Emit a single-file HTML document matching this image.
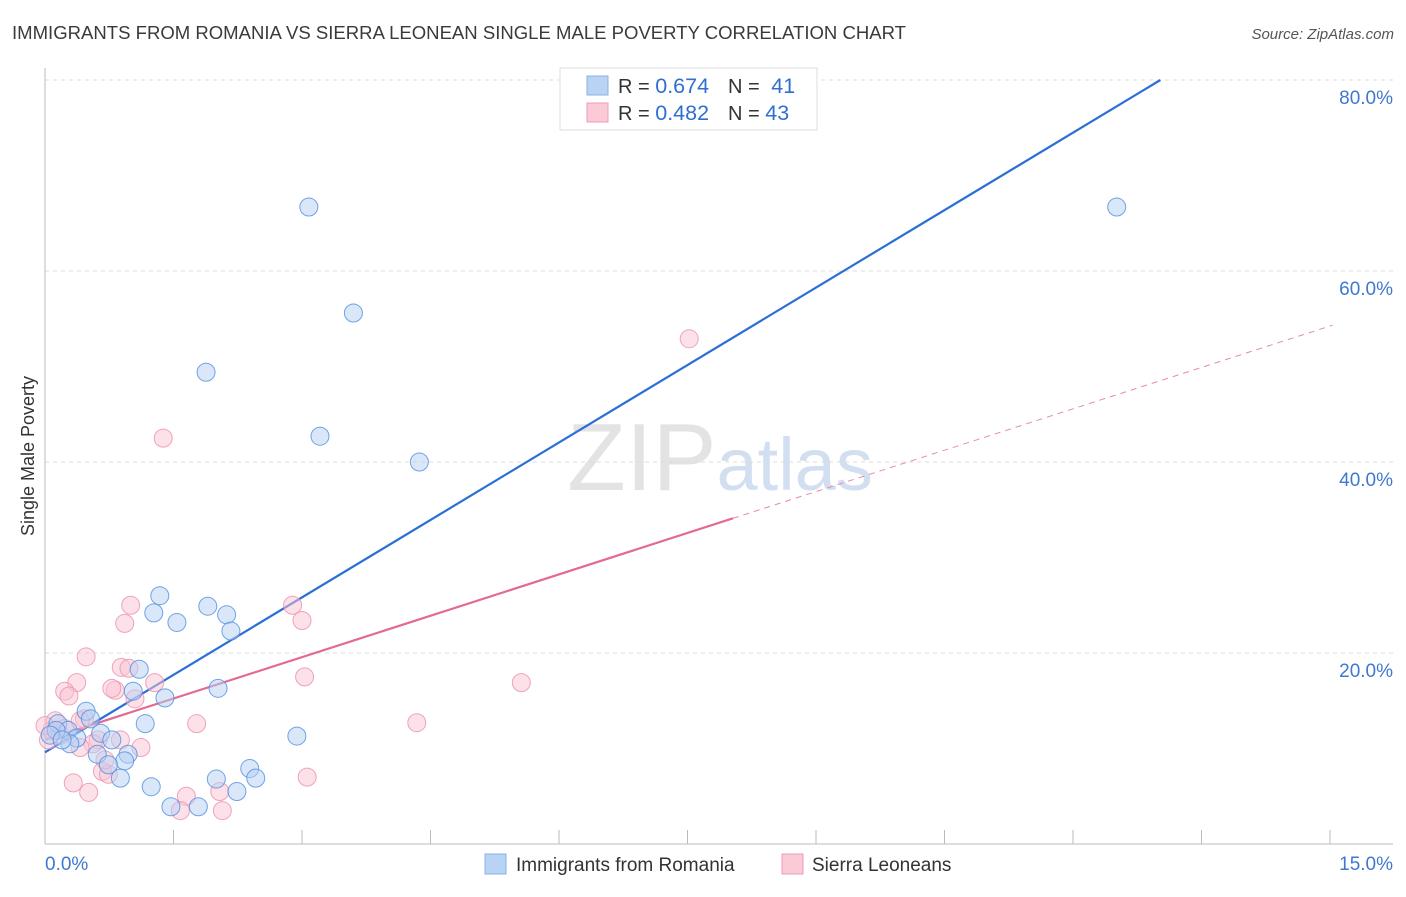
<!DOCTYPE html>
<html><head><meta charset="utf-8"><style>
body{margin:0;background:#fff;font-family:"Liberation Sans",sans-serif;}
svg text{font-family:"Liberation Sans",sans-serif;}
</style></head><body>
<svg id="chart" width="1406" height="892" viewBox="0 0 1406 892" xmlns="http://www.w3.org/2000/svg">
<text x="12" y="39" font-size="18.6" fill="#3a3a3a" textLength="894" lengthAdjust="spacingAndGlyphs">IMMIGRANTS FROM ROMANIA VS SIERRA LEONEAN SINGLE MALE POVERTY CORRELATION CHART</text>
<text x="1394" y="39" font-size="15" fill="#555" font-style="italic" text-anchor="end">Source: ZipAtlas.com</text>
<text x="720" y="490" font-size="96" text-anchor="middle" font-family="Liberation Serif" fill="#ddd" opacity="0.8">ZIP<tspan font-family="Liberation Sans" font-size="74" fill="#c8d8ee">atlas</tspan></text>
<g id="grid"></g>
<g id="axes"></g>
<g id="lines"></g>
<g id="pts"></g>
<text transform="translate(34,456) rotate(-90)" font-size="18" fill="#333" text-anchor="middle">Single Male Poverty</text>
<g>
<rect x="560" y="68" width="257" height="62" fill="#fff" stroke="#ddd"/>
<rect x="587" y="76" width="21" height="19" fill="#b8d3f4" stroke="#8ab2e6"/>
<rect x="587" y="103" width="21" height="19" fill="#fbcad7" stroke="#f09ab4"/>
<text x="618" y="93" font-size="20" fill="#333">R = <tspan fill="#2f6fd0" font-size="21.5">0.674</tspan></text>
<text x="728" y="93" font-size="20" fill="#333">N = <tspan fill="#2f6fd0" dx="6" font-size="21.5">41</tspan></text>
<text x="618" y="120" font-size="20" fill="#333">R = <tspan fill="#2f6fd0" font-size="21.5">0.482</tspan></text>
<text x="728" y="120" font-size="20" fill="#333">N = <tspan fill="#2f6fd0" font-size="21.5">43</tspan></text>
</g>
<g>
<rect x="485" y="854" width="21" height="20" fill="#b8d3f4" stroke="#8ab2e6"/>
<text x="516" y="871" font-size="19" fill="#333">Immigrants from Romania</text>
<rect x="782" y="854" width="21" height="20" fill="#fbcad7" stroke="#f09ab4"/>
<text x="812" y="871" font-size="19" fill="#333">Sierra Leoneans</text>
</g>
</svg>
<script>
const xTickLabels=["0.0%","15.0%"];
const yTicks=[20,40,60,80];
const blueX=[3.08,12.51,3.60,1.88,3.21,4.37,1.34,1.27,1.90,2.12,1.54,2.17,1.10,2.02,1.03,1.40,0.48,0.53,1.17,0.15,0.27,0.65,0.37,2.94,0.78,0.29,0.61,0.97,0.93,0.74,2.39,0.88,2.46,2.00,1.24,2.24,1.47,1.79,0.13,0.06,0.20];
const blueY=[66.7,66.7,55.6,49.4,42.7,40.0,26.0,24.2,24.9,24.0,23.2,22.3,18.3,16.3,16.0,15.3,13.9,13.1,12.6,12.6,11.9,11.6,11.1,11.3,10.9,10.5,9.4,9.4,8.7,8.3,7.9,6.9,6.9,6.8,6.0,5.5,3.9,3.9,11.9,11.4,10.9];
const pinkX=[7.52,1.38,1.00,2.89,0.93,3.00,0.48,0.89,0.98,0.37,0.23,0.82,0.28,1.28,3.03,5.56,0.78,1.05,0.46,0.41,1.77,4.34,0.62,0.88,1.12,0.56,0.41,0.08,0.04,0.12,0.67,0.74,0.33,0.51,3.06,1.65,2.04,1.58,2.07,0.18,0.23,0.70,0.00];
const pinkY=[52.9,42.5,25.0,25.0,23.1,23.4,19.6,18.5,18.4,16.9,16.0,16.1,15.5,16.9,17.5,16.9,16.3,15.2,13.1,12.9,12.6,12.7,10.9,10.9,10.1,10.5,10.1,11.9,10.9,12.9,7.6,7.3,6.4,5.4,7.0,5.0,5.5,3.5,3.5,11.4,12.1,8.8,12.4];
const blueFit=[9.6,5.407]; // intercept, slope
const pinkFit=[10.9,2.889];
const pinkSolidEnd=8.03;

const NS="http://www.w3.org/2000/svg";
const X0=45,X1=1330,Y0=844,Y80=80;
const sx=v=>X0+v/15*(X1-X0);
const sy=v=>Y0-v/80*(Y0-Y80);
function mk(tag,attrs,parent){const e=document.createElementNS(NS,tag);for(const k in attrs)e.setAttribute(k,attrs[k]);parent.appendChild(e);return e;}
const grid=document.getElementById('grid'),axes=document.getElementById('axes'),lines=document.getElementById('lines'),pts=document.getElementById('pts');
yTicks.forEach(t=>{
  const l=mk('line',{x1:X0,x2:1393,y1:sy(t),y2:sy(t),stroke:'#ddd','stroke-dasharray':'4,4'},grid);
  
  
  const tx=mk('text',{x:1393,y:sy(t)+24,'font-size':19,fill:'#3f78d0','text-anchor':'end'},grid);
  tx.textContent=t.toFixed(1)+'%';
  
  
});
mk('line',{x1:X0,x2:X0,y1:68,y2:Y0,stroke:'#bbb'},axes);
mk('line',{x1:X0,x2:1393,y1:Y0,y2:Y0,stroke:'#bbb'},axes);
for(let i=1;i<=10;i++){mk('line',{x1:sx(i*1.5),x2:sx(i*1.5),y1:830,y2:Y0,stroke:'#bbb'},axes);}
const xl0=mk('text',{x:45,y:870,'font-size':19,fill:'#3f78d0'},axes);xl0.textContent=xTickLabels[0];


const xl1=mk('text',{x:1393,y:870,'font-size':19,fill:'#3f78d0','text-anchor':'end'},axes);xl1.textContent=xTickLabels[1];


function dot(x,y,fill,stroke){const c=mk('circle',{cx:sx(x),cy:sy(y),r:9,fill:fill,'fill-opacity':0.5,stroke:stroke,'stroke-opacity':0.8,'stroke-width':1},pts);return c;}
pinkX.forEach((x,i)=>{const c=dot(x,pinkY[i],'#f9c3d2','#ec8fac');

});
blueX.forEach((x,i)=>{const c=dot(x,blueY[i],'#b5d0f3','#4f8ee0');

});
const bxEnd=(80-blueFit[0])/blueFit[1];
const bl=mk('line',{x1:sx(0),y1:sy(blueFit[0]),x2:sx(bxEnd),y2:sy(80),stroke:'#2a6fd6','stroke-width':2.2},lines);


const pl=mk('line',{x1:sx(0),y1:sy(pinkFit[0]),x2:sx(pinkSolidEnd),y2:sy(pinkFit[0]+pinkFit[1]*pinkSolidEnd),stroke:'#e36a93','stroke-width':2.2},lines);


const pd=mk('line',{x1:sx(pinkSolidEnd),y1:sy(pinkFit[0]+pinkFit[1]*pinkSolidEnd),x2:sx(15.03),y2:sy(pinkFit[0]+pinkFit[1]*15.03),stroke:'#e88aaa','stroke-width':1,'stroke-dasharray':'6,5'},lines);


</script>
</body></html>
